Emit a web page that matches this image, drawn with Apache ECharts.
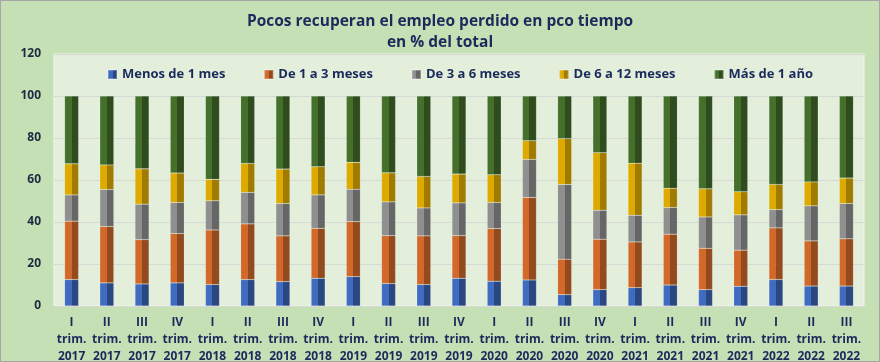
<!DOCTYPE html>
<html>
<head>
<meta charset="utf-8">
<script src="https://cdn.jsdelivr.net/npm/echarts@6/dist/echarts.min.js"></script>
<style>
html,body{margin:0;padding:0;background:#c5e0b4;}
#c{width:880px;height:362px;box-sizing:border-box;border:1px solid #a6a6a6;}
</style>
</head>
<body>
<div id="c"></div>
<script>
const categories = ["I\ntrim.\n2017","II\ntrim.\n2017","III\ntrim.\n2017","IV\ntrim.\n2017",
"I\ntrim.\n2018","II\ntrim.\n2018","III\ntrim.\n2018","IV\ntrim.\n2018",
"I\ntrim.\n2019","II\ntrim.\n2019","III\ntrim.\n2019","IV\ntrim.\n2019",
"I\ntrim.\n2020","II\ntrim.\n2020","III\ntrim.\n2020","IV\ntrim.\n2020",
"I\ntrim.\n2021","II\ntrim.\n2021","III\ntrim.\n2021","IV\ntrim.\n2021",
"I\ntrim.\n2022","II\ntrim.\n2022","III\ntrim.\n2022"];
const menos1mes   = [12.6,11.0,10.5,11.0,10.2,12.6,11.6,13.2,14.0,10.7,10.2,13.2,11.8,12.4,5.4,7.8,8.7,10.0,7.8,9.4,12.6,9.5,9.5];
const de1a3meses  = [27.8,26.8,21.1,23.5,26.0,26.5,21.8,23.8,26.2,22.8,23.2,20.3,25.1,39.3,16.9,24.0,21.8,24.2,19.7,17.2,24.6,21.5,22.5];
const de3a6meses  = [12.5,17.7,16.9,14.8,13.9,15.0,15.4,15.9,15.4,16.1,13.3,15.6,12.4,18.1,35.6,13.8,12.7,12.7,14.9,16.8,8.7,16.7,16.8];
const de6a12meses = [14.8,11.7,16.8,14.0,10.2,13.8,16.4,13.4,12.8,13.8,15.0,13.7,13.2,8.9,21.8,27.4,24.8,9.2,13.4,11.0,12.0,11.4,12.1];
const mas1anio    = [32.3,32.8,34.7,36.7,39.7,32.1,34.8,33.7,31.6,36.6,38.3,37.2,37.5,21.3,20.3,27.0,32.0,43.9,44.2,45.6,42.1,40.9,39.1];
const yTicks = [0,20,40,60,80,100,120];

function grad(light, dark){
  return new echarts.graphic.LinearGradient(0,0,1,0,[
    {offset:0,color:light},{offset:0.5,color:light},
    {offset:0.5,color:dark},{offset:1,color:dark}
  ]);
}
const navy = '#1b2a5c';
const defs = [
  {name:'Menos de 1 mes', data:menos1mes, light:'#3f6cc0', dark:'#2a4781'},
  {name:'De 1 a 3 meses', data:de1a3meses, light:'#d2692a', dark:'#924a1e'},
  {name:'De 3 a 6 meses', data:de3a6meses, light:'#8f8f8f', dark:'#666666'},
  {name:'De 6 a 12 meses', data:de6a12meses, light:'#dcaa00', dark:'#a07b00'},
  {name:'Más de 1 año', data:mas1anio, light:'#44702c', dark:'#2f4c1f'}
];
const chart = echarts.init(document.getElementById('c'));
chart.setOption({
  backgroundColor:'#c5e0b4',
  animation:false,
  title:{
    text:'Pocos recuperan el empleo perdido en pco tiempo\nen % del total',
    left:'center', top:5,
    textStyle:{fontFamily:'Open Sans',fontSize:15.5,fontWeight:'bold',color:navy,lineHeight:21}
  },
  legend:{
    top:62, left:101, itemWidth:9, itemHeight:9, itemGap:38,
    textStyle:{fontFamily:'Open Sans',fontSize:13,fontWeight:'bold',color:navy},
    data:defs.map(d=>({name:d.name,icon:'rect'}))
  },
  grid:{left:53,right:15,top:53,bottom:55,outerBoundsMode:'none',containLabel:false,show:true,backgroundColor:'#e3efdb',borderColor:'#f2f7ee',borderWidth:1},
  xAxis:{
    type:'category', data:categories,
    axisLine:{show:false}, axisTick:{show:false},
    axisLabel:{interval:0,margin:8,fontFamily:'Open Sans',fontSize:12,fontWeight:'bold',color:navy,lineHeight:17}
  },
  yAxis:{
    type:'value', min:0, max:120, interval:20,
    axisLine:{show:false}, axisTick:{show:false},
    splitLine:{lineStyle:{color:'#d6d9d4',width:1}},
    axisLabel:{margin:13,fontFamily:'Open Sans',fontSize:12,fontWeight:'bold',color:'#1e2a40'}
  },
  series:defs.map(d=>({
    name:d.name, type:'bar', stack:'t', barWidth:14,
    data:d.data,
    itemStyle:{color:grad(d.light,d.dark),borderColor:'rgba(255,255,255,0.25)',borderWidth:0.5}
  }))
});
</script>
</body>
</html>
